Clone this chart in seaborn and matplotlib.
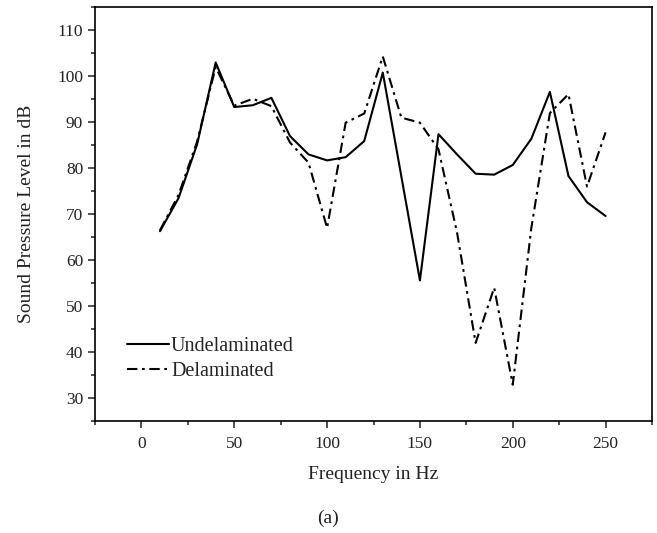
import matplotlib
matplotlib.use('Agg')
import matplotlib.pyplot as plt
from matplotlib.ticker import MultipleLocator
import seaborn as sns
import pandas as pd

# frequencies (Hz) and sound pressure levels (dB)
freq = [10, 20, 30, 40, 50, 60, 70, 80, 90, 100, 110, 120, 130,
        140, 150, 160, 170, 180, 190, 200, 210, 220, 230, 240, 250]
undelaminated = [66.3, 73.5, 85.2, 103.0, 93.3, 93.7, 95.3, 87.0, 83.0, 81.7, 82.4, 85.9, 100.8,
                 78.2, 55.6, 87.4, 83.0, 78.8, 78.6, 80.7, 86.4, 96.6, 78.3, 72.6, 69.6]
delaminated = [66.5, 74.2, 85.8, 102.0, 93.6, 95.1, 93.5, 85.6, 81.2, 67.0, 89.9, 91.9, 104.3,
               91.0, 89.9, 84.1, 66.0, 42.0, 54.0, 32.9, 67.0, 92.0, 96.1, 76.0, 87.8]

df = pd.DataFrame({'Frequency': freq * 2,
                   'SPL': undelaminated + delaminated,
                   'Case': ['Undelaminated'] * len(freq) + ['Delaminated'] * len(freq)})

sns.set_style('ticks')
plt.rcParams['font.family'] = ['Liberation Serif', 'DejaVu Serif']
plt.rcParams['text.color'] = '#222222'
plt.rcParams['axes.labelcolor'] = '#222222'
plt.rcParams['xtick.color'] = '#222222'
plt.rcParams['ytick.color'] = '#222222'

fig = plt.figure(figsize=(6.57, 5.33), dpi=100)
ax = fig.add_axes([0.1446, 0.210, 0.8478, 0.7763])

sns.lineplot(data=df, x='Frequency', y='SPL', hue='Case', style='Case',
             palette=['black', 'black'],
             dashes={'Undelaminated': '', 'Delaminated': (5, 2.2, 1.3, 2.2)},
             linewidth=1.5, ax=ax)

ax.set_xlim(-25, 275)
ax.set_ylim(25, 115)
ax.xaxis.set_major_locator(MultipleLocator(50))
ax.xaxis.set_minor_locator(MultipleLocator(25))
ax.yaxis.set_major_locator(MultipleLocator(10))
ax.yaxis.set_minor_locator(MultipleLocator(5))
ax.tick_params(which='major', direction='out', length=5, width=1.1, labelsize=12.5)
ax.tick_params(axis='x', which='major', pad=6)
ax.tick_params(which='minor', direction='out', length=3, width=1.1)
for s in ax.spines.values():
    s.set_visible(True)
    s.set_linewidth(1.2)
    s.set_color('black')

ax.set_xlabel('Frequency in Hz', fontsize=14, labelpad=10)
ax.set_ylabel('Sound Pressure Level in dB', fontsize=14, labelpad=16)

leg = ax.legend(loc='center left', bbox_to_anchor=(0.057, 0.15), frameon=False,
                fontsize=14.5, handlelength=2.1, handletextpad=0.1,
                borderpad=0, borderaxespad=0, labelspacing=0.3)
for line in leg.get_lines():
    line.set_linewidth(1.5)

fig.text(0.5, 1 - 518 / 533, '(a)', ha='center', va='center', fontsize=14)

fig.savefig('out.png', dpi=100)
